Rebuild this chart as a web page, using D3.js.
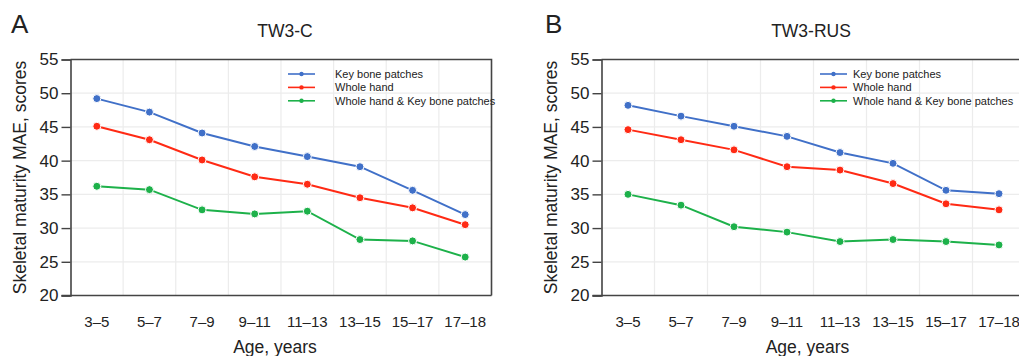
<!DOCTYPE html>
<html>
<head>
<meta charset="utf-8">
<script src="https://cdn.jsdelivr.net/npm/d3@7"></script>
<style>
  html, body { margin: 0; padding: 0; background: #fff; }
  svg { display: block; font-family: "Liberation Sans", Arial, Helvetica, sans-serif; }
</style>
</head>
<body>
<svg id="chart" width="1019" height="356"></svg>
<script>
// ---- Data ----
const categories = ["3–5", "5–7", "7–9", "9–11", "11–13", "13–15", "15–17", "17–18"];
const seriesNames = ["Key bone patches", "Whole hand", "Whole hand & Key bone patches"];
const yTicks = [20, 25, 30, 35, 40, 45, 50, 55];

// Panel A: TW3-C
const tw3cKeyBone = [49.2, 47.2, 44.1, 42.1, 40.6, 39.1, 35.6, 32.0];
const tw3cWholeHand = [45.1, 43.1, 40.1, 37.6, 36.5, 34.5, 33.0, 30.5];
const tw3cCombined = [36.2, 35.7, 32.7, 32.1, 32.5, 28.3, 28.1, 25.7];

// Panel B: TW3-RUS
const tw3rusKeyBone = [48.2, 46.6, 45.1, 43.6, 41.2, 39.6, 35.6, 35.1];
const tw3rusWholeHand = [44.6, 43.1, 41.6, 39.1, 38.6, 36.6, 33.6, 32.7];
const tw3rusCombined = [35.0, 33.4, 30.2, 29.4, 28.0, 28.3, 28.0, 27.5];

const colors = ["#4070c8", "#ff2a14", "#1db14a"];

const svg = d3.select("#chart");

function drawPanel(cfg) {
  const g = svg.append("g");
  const x = d3.scaleBand().domain(categories).range([cfg.left, cfg.right]).padding(0);
  const y = d3.scaleLinear().domain([20, 55]).range([cfg.bottom, cfg.top]);
  const cx = c => x(c) + x.bandwidth() / 2;

  // grid
  const grid = g.append("g");
  grid.selectAll("line.h").data(yTicks.filter(t => t > 20 && t < 55)).join("line")
    .attr("x1", cfg.left).attr("x2", cfg.right)
    .attr("y1", d => y(d)).attr("y2", d => y(d))
    .attr("stroke", "#ececec").attr("stroke-width", 1.2);
  grid.selectAll("line.v").data(categories.slice(1)).join("line")
    .attr("x1", d => x(d)).attr("x2", d => x(d))
    .attr("y1", cfg.top).attr("y2", cfg.bottom)
    .attr("stroke", "#ececec").attr("stroke-width", 1.2);

  // frame top/right
  g.append("path")
    .attr("d", `M${cfg.left},${cfg.top}H${cfg.right}V${cfg.bottom}`)
    .attr("fill", "none").attr("stroke", "#444").attr("stroke-width", 1.6);

  // y axis
  const yAxis = g.append("g").attr("transform", `translate(${cfg.left},0)`)
    .call(d3.axisLeft(y).tickValues(yTicks).tickSize(9).tickPadding(3));
  yAxis.select(".domain").attr("stroke", "#444").attr("stroke-width", 1.6);
  yAxis.selectAll(".tick line").attr("stroke", "#444").attr("stroke-width", 1.4);
  yAxis.selectAll(".tick text").attr("fill", "#222").style("font-size", "17px")
    .style("font-family", "'Liberation Sans', Arial, sans-serif");

  // x axis (line only at bottom, extended to the y tick)
  g.append("line")
    .attr("x1", cfg.left - 9).attr("x2", cfg.right)
    .attr("y1", cfg.bottom).attr("y2", cfg.bottom)
    .attr("stroke", "#444").attr("stroke-width", 1.6);
  g.append("g").selectAll("text").data(categories).join("text")
    .attr("x", d => cx(d)).attr("y", cfg.bottom + 31)
    .attr("text-anchor", "middle").attr("fill", "#222")
    .style("font-size", "15px").text(d => d);

  // axis titles
  g.append("text")
    .attr("x", (cfg.left + cfg.plotRightVisible) / 2 - 6).attr("y", 353)
    .attr("text-anchor", "middle").attr("fill", "#222").style("font-size", "17.5px")
    .text("Age, years");
  g.append("text")
    .attr("transform", `translate(${cfg.ylabelX},${(cfg.top + cfg.bottom) / 2}) rotate(-90)`)
    .attr("text-anchor", "middle").attr("fill", "#222").style("font-size", "17.5px")
    .text("Skeletal maturity MAE, scores");

  // title and panel letter
  g.append("text").attr("x", cfg.titleX).attr("y", 37)
    .attr("text-anchor", "middle").attr("fill", "#222").style("font-size", "17.5px")
    .text(cfg.title);
  g.append("text").attr("x", cfg.letterX).attr("y", 33)
    .attr("fill", "#222").style("font-size", "26px")
    .text(cfg.letter);

  // series
  const line = d3.line().x((d, i) => cx(categories[i])).y(d => y(d));
  cfg.series.forEach((vals, si) => {
    g.append("path").datum(vals)
      .attr("d", line).attr("fill", "none")
      .attr("stroke", colors[si]).attr("stroke-width", 2);
  });
  cfg.series.forEach((vals, si) => {
    g.append("g").selectAll("circle").data(vals).join("circle")
      .attr("cx", (d, i) => cx(categories[i])).attr("cy", d => y(d))
      .attr("r", 4).attr("fill", colors[si])
      .attr("stroke", "#fff").attr("stroke-width", 1);
  });

  // legend
  const lg = g.append("g");
  seriesNames.forEach((name, i) => {
    const yy = 74 + i * 13.4;
    lg.append("line").attr("x1", cfg.legX).attr("x2", cfg.legX + 27)
      .attr("y1", yy).attr("y2", yy).attr("stroke", colors[i]).attr("stroke-width", 1.6);
    lg.append("circle").attr("cx", cfg.legX + 13.5).attr("cy", yy).attr("r", 2.2)
      .attr("fill", colors[i]);
    lg.append("text").attr("x", cfg.legTextX).attr("y", yy + 4)
      .attr("fill", "#222").style("font-size", "11px").text(name);
  });
}

drawPanel({
  left: 70.5, right: 491.5, top: 59.5, bottom: 295.5, plotRightVisible: 491.5,
  ylabelX: 26, title: "TW3-C", titleX: 285, letter: "A", letterX: 11,
  legX: 288, legTextX: 335,
  series: [tw3cKeyBone, tw3cWholeHand, tw3cCombined]
});
drawPanel({
  left: 601.5, right: 1025.5, top: 59.5, bottom: 295.5, plotRightVisible: 1025.5,
  ylabelX: 557, title: "TW3-RUS", titleX: 811, letter: "B", letterX: 545,
  legX: 820, legTextX: 853,
  series: [tw3rusKeyBone, tw3rusWholeHand, tw3rusCombined]
});
</script>
</body>
</html>
